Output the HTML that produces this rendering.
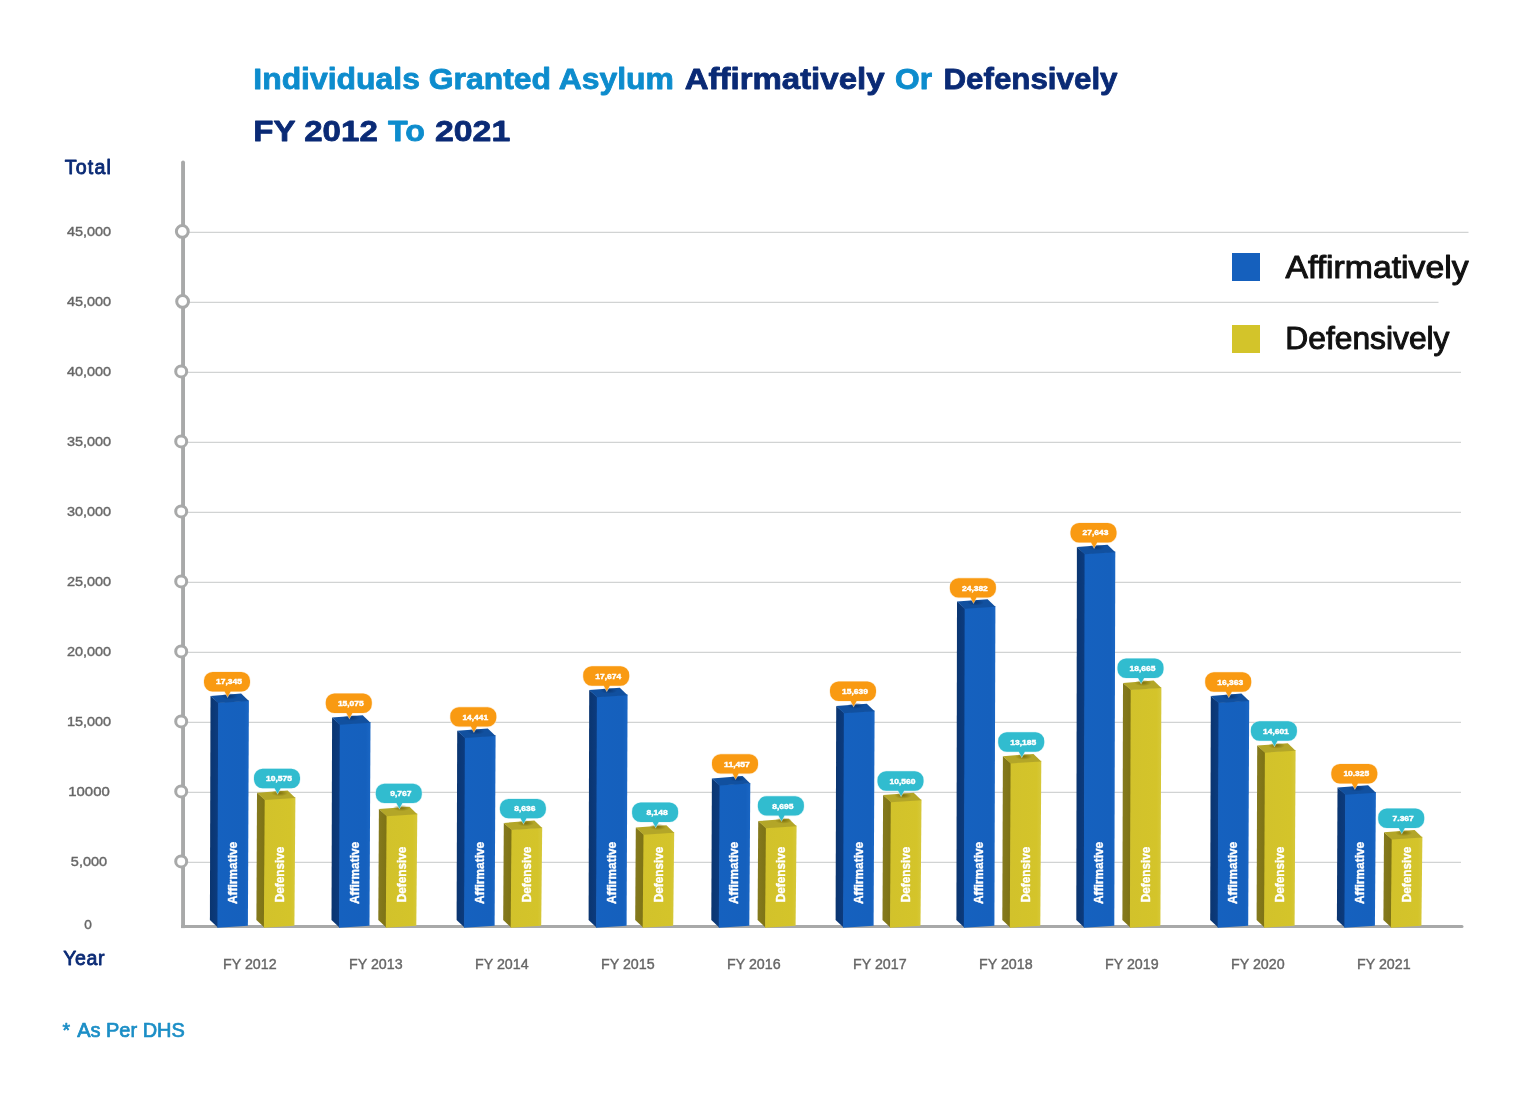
<!DOCTYPE html>
<html lang="en"><head><meta charset="utf-8"><title>Individuals Granted Asylum Affirmatively Or Defensively FY 2012 To 2021</title>
<style>html,body{margin:0;padding:0;background:#fff}body{width:1531px;height:1106px;overflow:hidden}svg{display:block}text{font-family:"Liberation Sans", sans-serif}</style></head><body>
<svg width="1531" height="1106" viewBox="0 0 1531 1106">
<defs>
<linearGradient id="bf" x1="0" x2="1" y1="0" y2="0"><stop offset="0" stop-color="#1561bf"/><stop offset="0.85" stop-color="#1560bd"/><stop offset="1" stop-color="#1a66c4"/></linearGradient>
<linearGradient id="bs" x1="0" x2="1" y1="0" y2="0"><stop offset="0" stop-color="#0a3570"/><stop offset="1" stop-color="#0c3c80"/></linearGradient>
<linearGradient id="yf" x1="0" x2="1" y1="0" y2="0"><stop offset="0" stop-color="#d2c22b"/><stop offset="0.85" stop-color="#d4c42a"/><stop offset="1" stop-color="#d6c83a"/></linearGradient>
<linearGradient id="ys" x1="0" x2="1" y1="0" y2="0"><stop offset="0" stop-color="#857a1e"/><stop offset="1" stop-color="#7d7214"/></linearGradient>
<radialGradient id="sb" cx="0.5" cy="0.5" r="0.5"><stop offset="0" stop-color="#0a3570" stop-opacity="0.9"/><stop offset="1" stop-color="#0a3570" stop-opacity="0"/></radialGradient>
<radialGradient id="sy" cx="0.5" cy="0.5" r="0.5"><stop offset="0" stop-color="#7d6f0c" stop-opacity="0.95"/><stop offset="1" stop-color="#7d6f0c" stop-opacity="0"/></radialGradient>
</defs>
<rect width="1531" height="1106" fill="#fff"/>
<g id="title">
<text x="253.3" y="88.8" font-size="29.2" font-weight="bold" fill="#0d8ccd" stroke="#0d8ccd" stroke-width="0.80" stroke-linejoin="round" textLength="420.6" lengthAdjust="spacingAndGlyphs">Individuals Granted Asylum</text>
<text x="684.7" y="88.8" font-size="29.2" font-weight="bold" fill="#0a2a75" stroke="#0a2a75" stroke-width="0.80" stroke-linejoin="round" textLength="199.8" lengthAdjust="spacingAndGlyphs">Affirmatively</text>
<text x="895.0" y="88.8" font-size="29.2" font-weight="bold" fill="#0d8ccd" stroke="#0d8ccd" stroke-width="0.80" stroke-linejoin="round" textLength="37.0" lengthAdjust="spacingAndGlyphs">Or</text>
<text x="943.5" y="88.8" font-size="29.2" font-weight="bold" fill="#0a2a75" stroke="#0a2a75" stroke-width="0.80" stroke-linejoin="round" textLength="174.0" lengthAdjust="spacingAndGlyphs">Defensively</text>
<text x="253.3" y="140.7" font-size="30.2" font-weight="bold" fill="#0a2a75" stroke="#0a2a75" stroke-width="0.80" stroke-linejoin="round" textLength="124.5" lengthAdjust="spacingAndGlyphs">FY 2012</text>
<text x="388.0" y="140.7" font-size="30.2" font-weight="bold" fill="#0d8ccd" stroke="#0d8ccd" stroke-width="0.80" stroke-linejoin="round" textLength="37.0" lengthAdjust="spacingAndGlyphs">To</text>
<text x="435.0" y="140.7" font-size="30.2" font-weight="bold" fill="#0a2a75" stroke="#0a2a75" stroke-width="0.80" stroke-linejoin="round" textLength="75.2" lengthAdjust="spacingAndGlyphs">2021</text>
</g>
<g id="grid" stroke="#d1d3d3" stroke-width="1.3">
<line x1="183" y1="232.3" x2="1468.5" y2="232.3"/>
<line x1="183" y1="302.3" x2="1438.5" y2="302.3"/>
<line x1="183" y1="372.3" x2="1461.0" y2="372.3"/>
<line x1="183" y1="442.3" x2="1461.0" y2="442.3"/>
<line x1="183" y1="512.3" x2="1461.0" y2="512.3"/>
<line x1="183" y1="582.3" x2="1461.0" y2="582.3"/>
<line x1="183" y1="652.3" x2="1461.0" y2="652.3"/>
<line x1="183" y1="722.3" x2="1461.0" y2="722.3"/>
<line x1="183" y1="792.3" x2="1461.0" y2="792.3"/>
<line x1="183" y1="862.3" x2="1461.0" y2="862.3"/>
</g>
<g id="axis" stroke="#a8a9a9" stroke-width="3.6" fill="none" stroke-linecap="round" stroke-linejoin="miter">
<path d="M183.05 162.5 L183.05 925.3" stroke-width="3.9"/>
<path d="M181.1 926.6 L1462 926.6" stroke-width="3.0" stroke-linecap="butt"/>
<circle cx="1462" cy="926.6" r="1.5" fill="#a8a9a9" stroke="none"/>
<rect x="181.1" y="925.1" width="3.9" height="3" fill="#a8a9a9" stroke="none"/>
</g>
<g id="ticks" stroke="#a8a9a9" stroke-width="3.0" fill="#fff">
<circle cx="182.3" cy="231.4" r="5.9"/>
<circle cx="182.6" cy="301.4" r="5.9"/>
<circle cx="181.2" cy="371.4" r="5.5"/>
<circle cx="181.2" cy="441.4" r="5.5"/>
<circle cx="181.2" cy="511.4" r="5.5"/>
<circle cx="181.2" cy="581.4" r="5.5"/>
<circle cx="181.2" cy="651.4" r="5.5"/>
<circle cx="181.2" cy="721.4" r="5.5"/>
<circle cx="181.2" cy="791.4" r="5.5"/>
<circle cx="181.2" cy="861.4" r="5.5"/>
</g>
<g id="ylabels" font-size="13.6" fill="#666" text-anchor="middle" stroke="#666" stroke-width="0.4">
<text x="89" y="236.2" textLength="44.2" lengthAdjust="spacingAndGlyphs">45,000</text>
<text x="89" y="306.2" textLength="44.2" lengthAdjust="spacingAndGlyphs">45,000</text>
<text x="89" y="376.2" textLength="44.2" lengthAdjust="spacingAndGlyphs">40,000</text>
<text x="89" y="446.2" textLength="44.2" lengthAdjust="spacingAndGlyphs">35,000</text>
<text x="89" y="516.2" textLength="44.2" lengthAdjust="spacingAndGlyphs">30,000</text>
<text x="89" y="586.2" textLength="44.2" lengthAdjust="spacingAndGlyphs">25,000</text>
<text x="89" y="656.2" textLength="44.2" lengthAdjust="spacingAndGlyphs">20,000</text>
<text x="89" y="726.2" textLength="44.2" lengthAdjust="spacingAndGlyphs">15,000</text>
<text x="89" y="796.2" textLength="41.5" lengthAdjust="spacingAndGlyphs">10000</text>
<text x="89" y="866.2" textLength="36.3" lengthAdjust="spacingAndGlyphs">5,000</text>
<text x="88" y="929.2">0</text>
</g>
<g id="xlabels" font-size="14.6" fill="#666" text-anchor="middle" stroke="#666" stroke-width="0.4">
<text x="249.8" y="969.3" textLength="53.6" lengthAdjust="spacingAndGlyphs">FY 2012</text>
<text x="375.8" y="969.3" textLength="53.6" lengthAdjust="spacingAndGlyphs">FY 2013</text>
<text x="501.8" y="969.3" textLength="53.6" lengthAdjust="spacingAndGlyphs">FY 2014</text>
<text x="627.8" y="969.3" textLength="53.6" lengthAdjust="spacingAndGlyphs">FY 2015</text>
<text x="753.8" y="969.3" textLength="53.6" lengthAdjust="spacingAndGlyphs">FY 2016</text>
<text x="879.8" y="969.3" textLength="53.6" lengthAdjust="spacingAndGlyphs">FY 2017</text>
<text x="1005.8" y="969.3" textLength="53.6" lengthAdjust="spacingAndGlyphs">FY 2018</text>
<text x="1131.8" y="969.3" textLength="53.6" lengthAdjust="spacingAndGlyphs">FY 2019</text>
<text x="1257.8" y="969.3" textLength="53.6" lengthAdjust="spacingAndGlyphs">FY 2020</text>
<text x="1383.8" y="969.3" textLength="53.6" lengthAdjust="spacingAndGlyphs">FY 2021</text>
</g>
<text x="64.7" y="174.0" font-size="19.6" font-weight="normal" fill="#0a2a75" stroke="#0a2a75" stroke-width="0.85" stroke-linejoin="round" textLength="46.2" lengthAdjust="spacing">Total</text>
<text x="63.2" y="964.6" font-size="19.6" font-weight="normal" fill="#0a2a75" stroke="#0a2a75" stroke-width="0.80" stroke-linejoin="round" textLength="41.4" lengthAdjust="spacing">Year</text>
<text x="62.6" y="1036.8" font-size="19.4" font-weight="normal" fill="#1b8ec6" stroke="#1b8ec6" stroke-width="0.70" stroke-linejoin="round" textLength="7.6" lengthAdjust="spacingAndGlyphs">*</text>
<text x="77.2" y="1036.8" font-size="19.4" font-weight="normal" fill="#1b8ec6" stroke="#1b8ec6" stroke-width="0.70" stroke-linejoin="round" textLength="107.6" lengthAdjust="spacingAndGlyphs">As Per DHS</text>
<rect x="1232" y="253" width="28" height="28" fill="#1560bd"/>
<rect x="1232" y="325" width="28" height="28" fill="#d3c42a"/>
<g font-size="31.2" fill="#111" stroke="#111" stroke-width="1.0" stroke-linejoin="round">
<text x="1285.5" y="277.6" textLength="183" lengthAdjust="spacingAndGlyphs">Affirmatively</text>
<text x="1285.3" y="349.4" textLength="164.2" lengthAdjust="spacingAndGlyphs">Defensively</text>
</g>
<g id="bars">
<g>
<polygon points="210.5,695.9 218.9,703.1 218.1,927.7 209.9,920.0" fill="url(#bs)"/>
<polygon points="218.2,702.4 248.9,700.4 247.9,925.8 217.4,927.7" fill="url(#bf)"/>
<polygon points="210.5,695.9 241.1,693.6 248.9,701.1 218.2,703.1" fill="#11509f"/>
<text transform="translate(236.9 904.0) rotate(-90)" font-size="13.6" font-weight="bold" fill="#fff" stroke="#fff" stroke-width="0.4" textLength="62.2" lengthAdjust="spacingAndGlyphs">Affirmative</text>
</g>
<g>
<polygon points="257.0,792.7 265.4,799.9 264.6,927.7 256.4,920.0" fill="url(#ys)"/>
<polygon points="264.7,799.2 295.4,797.2 294.4,925.8 263.9,927.7" fill="url(#yf)"/>
<polygon points="257.0,792.7 287.6,790.4 295.4,797.9 264.7,799.9" fill="#b3a628"/>
<text transform="translate(284.1 902.3) rotate(-90)" font-size="13.6" font-weight="bold" fill="#fff" stroke="#fff" stroke-width="0.4" textLength="55.6" lengthAdjust="spacingAndGlyphs">Defensive</text>
</g>
<g>
<polygon points="332.1,717.6 340.5,724.8 339.7,927.7 331.5,920.0" fill="url(#bs)"/>
<polygon points="339.8,724.1 370.5,722.1 369.5,925.8 339.0,927.7" fill="url(#bf)"/>
<polygon points="332.1,717.6 362.7,715.3 370.5,722.8 339.8,724.8" fill="#11509f"/>
<text transform="translate(358.5 904.0) rotate(-90)" font-size="13.6" font-weight="bold" fill="#fff" stroke="#fff" stroke-width="0.4" textLength="62.2" lengthAdjust="spacingAndGlyphs">Affirmative</text>
</g>
<g>
<polygon points="378.9,809.0 387.3,816.2 386.5,927.7 378.3,920.0" fill="url(#ys)"/>
<polygon points="386.6,815.5 417.3,813.5 416.3,925.8 385.8,927.7" fill="url(#yf)"/>
<polygon points="378.9,809.0 409.5,806.7 417.3,814.2 386.6,816.2" fill="#b3a628"/>
<text transform="translate(406.0 902.3) rotate(-90)" font-size="13.6" font-weight="bold" fill="#fff" stroke="#fff" stroke-width="0.4" textLength="55.6" lengthAdjust="spacingAndGlyphs">Defensive</text>
</g>
<g>
<polygon points="457.2,730.8 465.6,738.0 464.8,927.7 456.6,920.0" fill="url(#bs)"/>
<polygon points="464.9,737.3 495.6,735.3 494.6,925.8 464.1,927.7" fill="url(#bf)"/>
<polygon points="457.2,730.8 487.8,728.5 495.6,736.0 464.9,738.0" fill="#11509f"/>
<text transform="translate(483.6 904.0) rotate(-90)" font-size="13.6" font-weight="bold" fill="#fff" stroke="#fff" stroke-width="0.4" textLength="62.2" lengthAdjust="spacingAndGlyphs">Affirmative</text>
</g>
<g>
<polygon points="503.8,822.9 512.2,830.1 511.4,927.7 503.2,920.0" fill="url(#ys)"/>
<polygon points="511.5,829.4 542.2,827.4 541.2,925.8 510.7,927.7" fill="url(#yf)"/>
<polygon points="503.8,822.9 534.4,820.6 542.2,828.1 511.5,830.1" fill="#b3a628"/>
<text transform="translate(530.9 902.3) rotate(-90)" font-size="13.6" font-weight="bold" fill="#fff" stroke="#fff" stroke-width="0.4" textLength="55.6" lengthAdjust="spacingAndGlyphs">Defensive</text>
</g>
<g>
<polygon points="589.2,690.1 597.6,697.3 596.8,927.7 588.6,920.0" fill="url(#bs)"/>
<polygon points="596.9,696.6 627.6,694.6 626.6,925.8 596.1,927.7" fill="url(#bf)"/>
<polygon points="589.2,690.1 619.8,687.8 627.6,695.3 596.9,697.3" fill="#11509f"/>
<text transform="translate(615.6 904.0) rotate(-90)" font-size="13.6" font-weight="bold" fill="#fff" stroke="#fff" stroke-width="0.4" textLength="62.2" lengthAdjust="spacingAndGlyphs">Affirmative</text>
</g>
<g>
<polygon points="635.8,827.5 644.2,834.7 643.4,927.7 635.2,920.0" fill="url(#ys)"/>
<polygon points="643.5,834.0 674.2,832.0 673.2,925.8 642.7,927.7" fill="url(#yf)"/>
<polygon points="635.8,827.5 666.4,825.2 674.2,832.7 643.5,834.7" fill="#b3a628"/>
<text transform="translate(662.9 902.3) rotate(-90)" font-size="13.6" font-weight="bold" fill="#fff" stroke="#fff" stroke-width="0.4" textLength="55.6" lengthAdjust="spacingAndGlyphs">Defensive</text>
</g>
<g>
<polygon points="711.9,778.4 720.3,785.6 719.5,927.7 711.3,920.0" fill="url(#bs)"/>
<polygon points="719.6,784.9 750.3,782.9 749.3,925.8 718.8,927.7" fill="url(#bf)"/>
<polygon points="711.9,778.4 742.5,776.1 750.3,783.6 719.6,785.6" fill="#11509f"/>
<text transform="translate(738.3 904.0) rotate(-90)" font-size="13.6" font-weight="bold" fill="#fff" stroke="#fff" stroke-width="0.4" textLength="62.2" lengthAdjust="spacingAndGlyphs">Affirmative</text>
</g>
<g>
<polygon points="758.2,821.1 766.6,828.3 765.8,927.7 757.6,920.0" fill="url(#ys)"/>
<polygon points="765.9,827.6 796.6,825.6 795.6,925.8 765.1,927.7" fill="url(#yf)"/>
<polygon points="758.2,821.1 788.8,818.8 796.6,826.3 765.9,828.3" fill="#b3a628"/>
<text transform="translate(785.3 902.3) rotate(-90)" font-size="13.6" font-weight="bold" fill="#fff" stroke="#fff" stroke-width="0.4" textLength="55.6" lengthAdjust="spacingAndGlyphs">Defensive</text>
</g>
<g>
<polygon points="836.2,706.1 844.6,713.3 843.8,927.7 835.6,920.0" fill="url(#bs)"/>
<polygon points="843.9,712.6 874.6,710.6 873.6,925.8 843.1,927.7" fill="url(#bf)"/>
<polygon points="836.2,706.1 866.8,703.8 874.6,711.3 843.9,713.3" fill="#11509f"/>
<text transform="translate(862.6 904.0) rotate(-90)" font-size="13.6" font-weight="bold" fill="#fff" stroke="#fff" stroke-width="0.4" textLength="62.2" lengthAdjust="spacingAndGlyphs">Affirmative</text>
</g>
<g>
<polygon points="883.1,795.1 891.5,802.3 890.7,927.7 882.5,920.0" fill="url(#ys)"/>
<polygon points="890.8,801.6 921.5,799.6 920.5,925.8 890.0,927.7" fill="url(#yf)"/>
<polygon points="883.1,795.1 913.7,792.8 921.5,800.3 890.8,802.3" fill="#b3a628"/>
<text transform="translate(910.2 902.3) rotate(-90)" font-size="13.6" font-weight="bold" fill="#fff" stroke="#fff" stroke-width="0.4" textLength="55.6" lengthAdjust="spacingAndGlyphs">Defensive</text>
</g>
<g>
<polygon points="957.0,601.5 965.4,608.7 964.6,927.7 956.4,920.0" fill="url(#bs)"/>
<polygon points="964.7,608.0 995.4,606.0 994.4,925.8 963.9,927.7" fill="url(#bf)"/>
<polygon points="957.0,601.5 987.6,599.2 995.4,606.7 964.7,608.7" fill="#11509f"/>
<text transform="translate(983.4 904.0) rotate(-90)" font-size="13.6" font-weight="bold" fill="#fff" stroke="#fff" stroke-width="0.4" textLength="62.2" lengthAdjust="spacingAndGlyphs">Affirmative</text>
</g>
<g>
<polygon points="1002.9,756.2 1011.3,763.4 1010.5,927.7 1002.3,920.0" fill="url(#ys)"/>
<polygon points="1010.6,762.7 1041.3,760.7 1040.3,925.8 1009.8,927.7" fill="url(#yf)"/>
<polygon points="1002.9,756.2 1033.5,753.9 1041.3,761.4 1010.6,763.4" fill="#b3a628"/>
<text transform="translate(1030.0 902.3) rotate(-90)" font-size="13.6" font-weight="bold" fill="#fff" stroke="#fff" stroke-width="0.4" textLength="55.6" lengthAdjust="spacingAndGlyphs">Defensive</text>
</g>
<g>
<polygon points="1076.9,547.0 1085.3,554.2 1084.5,927.7 1076.3,920.0" fill="url(#bs)"/>
<polygon points="1084.6,553.5 1115.3,551.5 1114.3,925.8 1083.8,927.7" fill="url(#bf)"/>
<polygon points="1076.9,547.0 1107.5,544.7 1115.3,552.2 1084.6,554.2" fill="#11509f"/>
<text transform="translate(1103.3 904.0) rotate(-90)" font-size="13.6" font-weight="bold" fill="#fff" stroke="#fff" stroke-width="0.4" textLength="62.2" lengthAdjust="spacingAndGlyphs">Affirmative</text>
</g>
<g>
<polygon points="1123.0,682.9 1131.4,690.1 1130.6,927.7 1122.4,920.0" fill="url(#ys)"/>
<polygon points="1130.7,689.4 1161.4,687.4 1160.4,925.8 1129.9,927.7" fill="url(#yf)"/>
<polygon points="1123.0,682.9 1153.6,680.6 1161.4,688.1 1130.7,690.1" fill="#b3a628"/>
<text transform="translate(1150.1 902.3) rotate(-90)" font-size="13.6" font-weight="bold" fill="#fff" stroke="#fff" stroke-width="0.4" textLength="55.6" lengthAdjust="spacingAndGlyphs">Defensive</text>
</g>
<g>
<polygon points="1210.8,695.9 1219.2,703.1 1218.4,927.7 1210.2,920.0" fill="url(#bs)"/>
<polygon points="1218.5,702.4 1249.2,700.4 1248.2,925.8 1217.7,927.7" fill="url(#bf)"/>
<polygon points="1210.8,695.9 1241.4,693.6 1249.2,701.1 1218.5,703.1" fill="#11509f"/>
<text transform="translate(1237.2 904.0) rotate(-90)" font-size="13.6" font-weight="bold" fill="#fff" stroke="#fff" stroke-width="0.4" textLength="62.2" lengthAdjust="spacingAndGlyphs">Affirmative</text>
</g>
<g>
<polygon points="1257.2,745.5 1265.6,752.7 1264.8,927.7 1256.6,920.0" fill="url(#ys)"/>
<polygon points="1264.9,752.0 1295.6,750.0 1294.6,925.8 1264.1,927.7" fill="url(#yf)"/>
<polygon points="1257.2,745.5 1287.8,743.2 1295.6,750.7 1264.9,752.7" fill="#b3a628"/>
<text transform="translate(1284.3 902.3) rotate(-90)" font-size="13.6" font-weight="bold" fill="#fff" stroke="#fff" stroke-width="0.4" textLength="55.6" lengthAdjust="spacingAndGlyphs">Defensive</text>
</g>
<g>
<polygon points="1337.5,787.6 1345.9,794.8 1345.1,927.7 1336.9,920.0" fill="url(#bs)"/>
<polygon points="1345.2,794.1 1375.9,792.1 1374.9,925.8 1344.4,927.7" fill="url(#bf)"/>
<polygon points="1337.5,787.6 1368.1,785.3 1375.9,792.8 1345.2,794.8" fill="#11509f"/>
<text transform="translate(1363.9 904.0) rotate(-90)" font-size="13.6" font-weight="bold" fill="#fff" stroke="#fff" stroke-width="0.4" textLength="62.2" lengthAdjust="spacingAndGlyphs">Affirmative</text>
</g>
<g>
<polygon points="1384.0,832.3 1392.4,839.5 1391.6,927.7 1383.4,920.0" fill="url(#ys)"/>
<polygon points="1391.7,838.8 1422.4,836.8 1421.4,925.8 1390.9,927.7" fill="url(#yf)"/>
<polygon points="1384.0,832.3 1414.6,830.0 1422.4,837.5 1391.7,839.5" fill="#b3a628"/>
<text transform="translate(1411.1 902.3) rotate(-90)" font-size="13.6" font-weight="bold" fill="#fff" stroke="#fff" stroke-width="0.4" textLength="55.6" lengthAdjust="spacingAndGlyphs">Defensive</text>
</g>
</g>
<g id="bubbles">
<ellipse cx="229.6" cy="696.3" rx="8.5" ry="3.2" fill="url(#sb)"/>
<path d="M212.6 672.0 h28.8 a8.6 8.6 0 0 1 8.6 8.6 v2.2 a8.6 8.6 0 0 1 -8.6 8.6 H230.6 L227.6 696.7 L224.6 691.4 H212.6 a8.6 8.6 0 0 1 -8.6 -8.6 v-2.2 a8.6 8.6 0 0 1 8.6 -8.6 z" fill="#f99a12" stroke="#fde3bd" stroke-width="1.2" stroke-opacity="0.7" paint-order="stroke"/>
<text x="229.0" y="684.3" font-size="8" font-weight="bold" fill="#fff" stroke="#fff" stroke-width="0.45" text-anchor="middle" textLength="25.8" lengthAdjust="spacingAndGlyphs">17,345</text>
<ellipse cx="279.6" cy="793.1" rx="8.5" ry="3.2" fill="url(#sy)"/>
<path d="M262.6 768.8 h28.8 a8.6 8.6 0 0 1 8.6 8.6 v2.2 a8.6 8.6 0 0 1 -8.6 8.6 H280.6 L277.6 793.5 L274.6 788.2 H262.6 a8.6 8.6 0 0 1 -8.6 -8.6 v-2.2 a8.6 8.6 0 0 1 8.6 -8.6 z" fill="#31bccf" stroke="#c9eef3" stroke-width="1.2" stroke-opacity="0.7" paint-order="stroke"/>
<text x="279.0" y="781.1" font-size="8" font-weight="bold" fill="#fff" stroke="#fff" stroke-width="0.45" text-anchor="middle" textLength="25.8" lengthAdjust="spacingAndGlyphs">10,575</text>
<ellipse cx="351.4" cy="717.8" rx="8.5" ry="3.2" fill="url(#sb)"/>
<path d="M334.4 693.5 h28.8 a8.6 8.6 0 0 1 8.6 8.6 v2.2 a8.6 8.6 0 0 1 -8.6 8.6 H352.4 L349.4 718.2 L346.4 712.9 H334.4 a8.6 8.6 0 0 1 -8.6 -8.6 v-2.2 a8.6 8.6 0 0 1 8.6 -8.6 z" fill="#f99a12" stroke="#fde3bd" stroke-width="1.2" stroke-opacity="0.7" paint-order="stroke"/>
<text x="350.8" y="705.8" font-size="8" font-weight="bold" fill="#fff" stroke="#fff" stroke-width="0.45" text-anchor="middle" textLength="25.8" lengthAdjust="spacingAndGlyphs">15,075</text>
<ellipse cx="401.4" cy="808.0" rx="8.5" ry="3.2" fill="url(#sy)"/>
<path d="M384.4 783.7 h28.8 a8.6 8.6 0 0 1 8.6 8.6 v2.2 a8.6 8.6 0 0 1 -8.6 8.6 H402.4 L399.4 808.4 L396.4 803.1 H384.4 a8.6 8.6 0 0 1 -8.6 -8.6 v-2.2 a8.6 8.6 0 0 1 8.6 -8.6 z" fill="#31bccf" stroke="#c9eef3" stroke-width="1.2" stroke-opacity="0.7" paint-order="stroke"/>
<text x="400.8" y="796.0" font-size="8" font-weight="bold" fill="#fff" stroke="#fff" stroke-width="0.45" text-anchor="middle" textLength="21.2" lengthAdjust="spacingAndGlyphs">9,767</text>
<ellipse cx="475.9" cy="731.5" rx="8.5" ry="3.2" fill="url(#sb)"/>
<path d="M458.9 707.2 h28.8 a8.6 8.6 0 0 1 8.6 8.6 v2.2 a8.6 8.6 0 0 1 -8.6 8.6 H476.9 L473.9 731.9 L470.9 726.6 H458.9 a8.6 8.6 0 0 1 -8.6 -8.6 v-2.2 a8.6 8.6 0 0 1 8.6 -8.6 z" fill="#f99a12" stroke="#fde3bd" stroke-width="1.2" stroke-opacity="0.7" paint-order="stroke"/>
<text x="475.3" y="719.5" font-size="8" font-weight="bold" fill="#fff" stroke="#fff" stroke-width="0.45" text-anchor="middle" textLength="25.8" lengthAdjust="spacingAndGlyphs">14,441</text>
<ellipse cx="525.5" cy="823.2" rx="8.5" ry="3.2" fill="url(#sy)"/>
<path d="M508.5 798.9 h28.8 a8.6 8.6 0 0 1 8.6 8.6 v2.2 a8.6 8.6 0 0 1 -8.6 8.6 H526.5 L523.5 823.6 L520.5 818.3 H508.5 a8.6 8.6 0 0 1 -8.6 -8.6 v-2.2 a8.6 8.6 0 0 1 8.6 -8.6 z" fill="#31bccf" stroke="#c9eef3" stroke-width="1.2" stroke-opacity="0.7" paint-order="stroke"/>
<text x="524.9" y="811.2" font-size="8" font-weight="bold" fill="#fff" stroke="#fff" stroke-width="0.45" text-anchor="middle" textLength="21.2" lengthAdjust="spacingAndGlyphs">8,636</text>
<ellipse cx="608.8" cy="690.6" rx="8.5" ry="3.2" fill="url(#sb)"/>
<path d="M591.8 666.3 h28.8 a8.6 8.6 0 0 1 8.6 8.6 v2.2 a8.6 8.6 0 0 1 -8.6 8.6 H609.8 L606.8 691.0 L603.8 685.7 H591.8 a8.6 8.6 0 0 1 -8.6 -8.6 v-2.2 a8.6 8.6 0 0 1 8.6 -8.6 z" fill="#f99a12" stroke="#fde3bd" stroke-width="1.2" stroke-opacity="0.7" paint-order="stroke"/>
<text x="608.2" y="678.6" font-size="8" font-weight="bold" fill="#fff" stroke="#fff" stroke-width="0.45" text-anchor="middle" textLength="25.8" lengthAdjust="spacingAndGlyphs">17,674</text>
<ellipse cx="657.7" cy="826.9" rx="8.5" ry="3.2" fill="url(#sy)"/>
<path d="M640.7 802.6 h28.8 a8.6 8.6 0 0 1 8.6 8.6 v2.2 a8.6 8.6 0 0 1 -8.6 8.6 H658.7 L655.7 827.3 L652.7 822.0 H640.7 a8.6 8.6 0 0 1 -8.6 -8.6 v-2.2 a8.6 8.6 0 0 1 8.6 -8.6 z" fill="#31bccf" stroke="#c9eef3" stroke-width="1.2" stroke-opacity="0.7" paint-order="stroke"/>
<text x="657.1" y="814.9" font-size="8" font-weight="bold" fill="#fff" stroke="#fff" stroke-width="0.45" text-anchor="middle" textLength="21.2" lengthAdjust="spacingAndGlyphs">8,148</text>
<ellipse cx="737.6" cy="778.5" rx="8.5" ry="3.2" fill="url(#sb)"/>
<path d="M720.6 754.2 h28.8 a8.6 8.6 0 0 1 8.6 8.6 v2.2 a8.6 8.6 0 0 1 -8.6 8.6 H738.6 L735.6 778.9 L732.6 773.6 H720.6 a8.6 8.6 0 0 1 -8.6 -8.6 v-2.2 a8.6 8.6 0 0 1 8.6 -8.6 z" fill="#f99a12" stroke="#fde3bd" stroke-width="1.2" stroke-opacity="0.7" paint-order="stroke"/>
<text x="737.0" y="766.5" font-size="8" font-weight="bold" fill="#fff" stroke="#fff" stroke-width="0.45" text-anchor="middle" textLength="25.8" lengthAdjust="spacingAndGlyphs">11,457</text>
<ellipse cx="783.5" cy="820.5" rx="8.5" ry="3.2" fill="url(#sy)"/>
<path d="M766.5 796.2 h28.8 a8.6 8.6 0 0 1 8.6 8.6 v2.2 a8.6 8.6 0 0 1 -8.6 8.6 H784.5 L781.5 820.9 L778.5 815.6 H766.5 a8.6 8.6 0 0 1 -8.6 -8.6 v-2.2 a8.6 8.6 0 0 1 8.6 -8.6 z" fill="#31bccf" stroke="#c9eef3" stroke-width="1.2" stroke-opacity="0.7" paint-order="stroke"/>
<text x="782.9" y="808.5" font-size="8" font-weight="bold" fill="#fff" stroke="#fff" stroke-width="0.45" text-anchor="middle" textLength="21.2" lengthAdjust="spacingAndGlyphs">8,695</text>
<ellipse cx="855.6" cy="705.8" rx="8.5" ry="3.2" fill="url(#sb)"/>
<path d="M838.6 681.5 h28.8 a8.6 8.6 0 0 1 8.6 8.6 v2.2 a8.6 8.6 0 0 1 -8.6 8.6 H856.6 L853.6 706.2 L850.6 700.9 H838.6 a8.6 8.6 0 0 1 -8.6 -8.6 v-2.2 a8.6 8.6 0 0 1 8.6 -8.6 z" fill="#f99a12" stroke="#fde3bd" stroke-width="1.2" stroke-opacity="0.7" paint-order="stroke"/>
<text x="855.0" y="693.8" font-size="8" font-weight="bold" fill="#fff" stroke="#fff" stroke-width="0.45" text-anchor="middle" textLength="25.8" lengthAdjust="spacingAndGlyphs">15,639</text>
<ellipse cx="903.1" cy="795.6" rx="8.5" ry="3.2" fill="url(#sy)"/>
<path d="M886.1 771.3 h28.8 a8.6 8.6 0 0 1 8.6 8.6 v2.2 a8.6 8.6 0 0 1 -8.6 8.6 H904.1 L901.1 796.0 L898.1 790.7 H886.1 a8.6 8.6 0 0 1 -8.6 -8.6 v-2.2 a8.6 8.6 0 0 1 8.6 -8.6 z" fill="#31bccf" stroke="#c9eef3" stroke-width="1.2" stroke-opacity="0.7" paint-order="stroke"/>
<text x="902.5" y="783.6" font-size="8" font-weight="bold" fill="#fff" stroke="#fff" stroke-width="0.45" text-anchor="middle" textLength="25.8" lengthAdjust="spacingAndGlyphs">10,560</text>
<ellipse cx="975.5" cy="602.5" rx="8.5" ry="3.2" fill="url(#sb)"/>
<path d="M958.5 578.2 h28.8 a8.6 8.6 0 0 1 8.6 8.6 v2.2 a8.6 8.6 0 0 1 -8.6 8.6 H976.5 L973.5 602.9 L970.5 597.6 H958.5 a8.6 8.6 0 0 1 -8.6 -8.6 v-2.2 a8.6 8.6 0 0 1 8.6 -8.6 z" fill="#f99a12" stroke="#fde3bd" stroke-width="1.2" stroke-opacity="0.7" paint-order="stroke"/>
<text x="974.9" y="590.5" font-size="8" font-weight="bold" fill="#fff" stroke="#fff" stroke-width="0.45" text-anchor="middle" textLength="25.8" lengthAdjust="spacingAndGlyphs">24,382</text>
<ellipse cx="1023.8" cy="756.6" rx="8.5" ry="3.2" fill="url(#sy)"/>
<path d="M1006.8 732.3 h28.8 a8.6 8.6 0 0 1 8.6 8.6 v2.2 a8.6 8.6 0 0 1 -8.6 8.6 H1024.8 L1021.8 757.0 L1018.8 751.7 H1006.8 a8.6 8.6 0 0 1 -8.6 -8.6 v-2.2 a8.6 8.6 0 0 1 8.6 -8.6 z" fill="#31bccf" stroke="#c9eef3" stroke-width="1.2" stroke-opacity="0.7" paint-order="stroke"/>
<text x="1023.2" y="744.6" font-size="8" font-weight="bold" fill="#fff" stroke="#fff" stroke-width="0.45" text-anchor="middle" textLength="25.8" lengthAdjust="spacingAndGlyphs">13,185</text>
<ellipse cx="1096.1" cy="547.4" rx="8.5" ry="3.2" fill="url(#sb)"/>
<path d="M1079.1 523.1 h28.8 a8.6 8.6 0 0 1 8.6 8.6 v2.2 a8.6 8.6 0 0 1 -8.6 8.6 H1097.1 L1094.1 547.8 L1091.1 542.5 H1079.1 a8.6 8.6 0 0 1 -8.6 -8.6 v-2.2 a8.6 8.6 0 0 1 8.6 -8.6 z" fill="#f99a12" stroke="#fde3bd" stroke-width="1.2" stroke-opacity="0.7" paint-order="stroke"/>
<text x="1095.5" y="535.4" font-size="8" font-weight="bold" fill="#fff" stroke="#fff" stroke-width="0.45" text-anchor="middle" textLength="25.8" lengthAdjust="spacingAndGlyphs">27,643</text>
<ellipse cx="1143.1" cy="682.9" rx="8.5" ry="3.2" fill="url(#sy)"/>
<path d="M1126.1 658.6 h28.8 a8.6 8.6 0 0 1 8.6 8.6 v2.2 a8.6 8.6 0 0 1 -8.6 8.6 H1144.1 L1141.1 683.3 L1138.1 678.0 H1126.1 a8.6 8.6 0 0 1 -8.6 -8.6 v-2.2 a8.6 8.6 0 0 1 8.6 -8.6 z" fill="#31bccf" stroke="#c9eef3" stroke-width="1.2" stroke-opacity="0.7" paint-order="stroke"/>
<text x="1142.5" y="670.9" font-size="8" font-weight="bold" fill="#fff" stroke="#fff" stroke-width="0.45" text-anchor="middle" textLength="25.8" lengthAdjust="spacingAndGlyphs">18,665</text>
<ellipse cx="1230.8" cy="696.6" rx="8.5" ry="3.2" fill="url(#sb)"/>
<path d="M1213.8 672.3 h28.8 a8.6 8.6 0 0 1 8.6 8.6 v2.2 a8.6 8.6 0 0 1 -8.6 8.6 H1231.8 L1228.8 697.0 L1225.8 691.7 H1213.8 a8.6 8.6 0 0 1 -8.6 -8.6 v-2.2 a8.6 8.6 0 0 1 8.6 -8.6 z" fill="#f99a12" stroke="#fde3bd" stroke-width="1.2" stroke-opacity="0.7" paint-order="stroke"/>
<text x="1230.2" y="684.6" font-size="8" font-weight="bold" fill="#fff" stroke="#fff" stroke-width="0.45" text-anchor="middle" textLength="25.8" lengthAdjust="spacingAndGlyphs">16,363</text>
<ellipse cx="1276.5" cy="745.6" rx="8.5" ry="3.2" fill="url(#sy)"/>
<path d="M1259.5 721.3 h28.8 a8.6 8.6 0 0 1 8.6 8.6 v2.2 a8.6 8.6 0 0 1 -8.6 8.6 H1277.5 L1274.5 746.0 L1271.5 740.7 H1259.5 a8.6 8.6 0 0 1 -8.6 -8.6 v-2.2 a8.6 8.6 0 0 1 8.6 -8.6 z" fill="#31bccf" stroke="#c9eef3" stroke-width="1.2" stroke-opacity="0.7" paint-order="stroke"/>
<text x="1275.9" y="733.6" font-size="8" font-weight="bold" fill="#fff" stroke="#fff" stroke-width="0.45" text-anchor="middle" textLength="25.8" lengthAdjust="spacingAndGlyphs">14,601</text>
<ellipse cx="1356.9" cy="788.3" rx="8.5" ry="3.2" fill="url(#sb)"/>
<path d="M1339.9 764.0 h28.8 a8.6 8.6 0 0 1 8.6 8.6 v2.2 a8.6 8.6 0 0 1 -8.6 8.6 H1357.9 L1354.9 788.7 L1351.9 783.4 H1339.9 a8.6 8.6 0 0 1 -8.6 -8.6 v-2.2 a8.6 8.6 0 0 1 8.6 -8.6 z" fill="#f99a12" stroke="#fde3bd" stroke-width="1.2" stroke-opacity="0.7" paint-order="stroke"/>
<text x="1356.3" y="776.3" font-size="8" font-weight="bold" fill="#fff" stroke="#fff" stroke-width="0.45" text-anchor="middle" textLength="25.8" lengthAdjust="spacingAndGlyphs">10.325</text>
<ellipse cx="1403.8" cy="832.9" rx="8.5" ry="3.2" fill="url(#sy)"/>
<path d="M1386.8 808.6 h28.8 a8.6 8.6 0 0 1 8.6 8.6 v2.2 a8.6 8.6 0 0 1 -8.6 8.6 H1404.8 L1401.8 833.3 L1398.8 828.0 H1386.8 a8.6 8.6 0 0 1 -8.6 -8.6 v-2.2 a8.6 8.6 0 0 1 8.6 -8.6 z" fill="#31bccf" stroke="#c9eef3" stroke-width="1.2" stroke-opacity="0.7" paint-order="stroke"/>
<text x="1403.2" y="820.9" font-size="8" font-weight="bold" fill="#fff" stroke="#fff" stroke-width="0.45" text-anchor="middle" textLength="21.2" lengthAdjust="spacingAndGlyphs">7.367</text>
</g>
</svg></body></html>
